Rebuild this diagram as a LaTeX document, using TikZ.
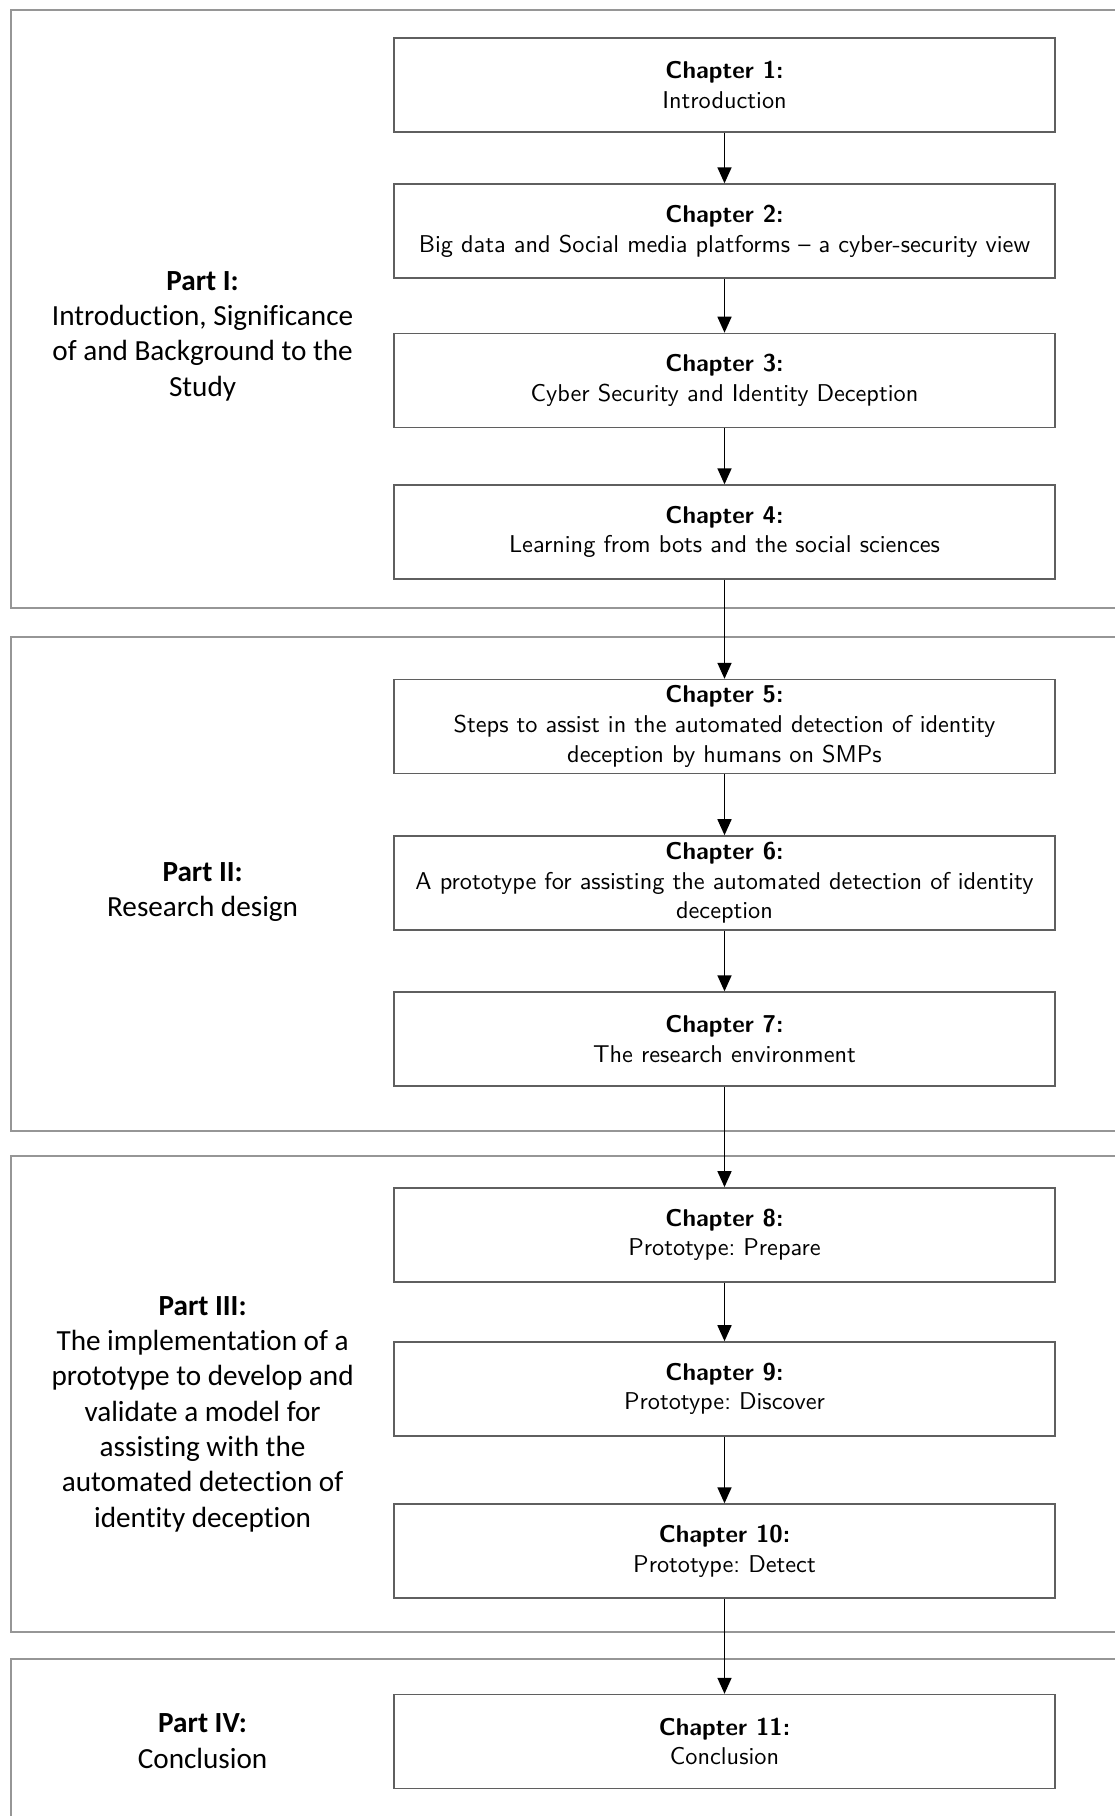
\documentclass[tikz,border=0pt]{standalone}
\usepackage{fontspec}
\usetikzlibrary{arrows.meta}
\newfontfamily\partfont[Ligatures=NoCommon]{Carlito}
\newfontfamily\chapfont[Ligatures=TeX,BoldFont=lmsans10-bold.otf]{lmsans10-regular.otf}
\frenchspacing
\definecolor{partgray}{HTML}{969696}
\definecolor{chapgray}{HTML}{5F5F5F}
\tikzset{
  partframe/.style={draw=partgray, line width=2pt},
  partlabel/.style={align=center, inner sep=0pt,
    font=\partfont\fontsize{29.2}{35.3}\selectfont},
  chapbox/.style={draw=chapgray, line width=1.4pt, minimum width=661pt,
    minimum height=94pt, inner sep=0pt, align=center,
    font=\chapfont\fontsize{24.3}{29.6}\selectfont},
  flow/.style={draw=black, line width=1.6pt,
    -{Triangle[length=16pt,width=14pt]}}
}
\begin{document}
\begin{tikzpicture}[x=1pt,y=-1pt]
\useasboundingbox (0,0) rectangle (1115,1816);

% part frames, open towards the right edge
\draw[partframe] (1115,10) -- (11,10) -- (11,608) -- (1115,608);
\draw[partframe] (1115,637) -- (11,637) -- (11,1131) -- (1115,1131);
\draw[partframe] (1115,1155.5) -- (11,1155.5) -- (11,1632) -- (1115,1632);
\draw[partframe] (1115,1659) -- (11,1659) -- (11,1816);

% part labels
\node[partlabel] (p1) at (202.6,336) {\textbf{Part I:}\\Introduction, Significance\\of and Background to the\\Study};
\node[partlabel] (p2) at (202.6,892) {\textbf{Part II:}\\Research design};
\node[partlabel] (p3) at (202.6,1414) {\textbf{Part III:}\\The implementation of a\\prototype to develop and\\validate a model for\\assisting with the\\automated detection of\\identity deception};
\node[partlabel] (p4) at (202.6,1741) {\textbf{Part IV:}\\Conclusion};

% chapters
\node[chapbox] (c1) at (724.5,84.9) {\textbf{Chapter 1:}\\Introduction};
\node[chapbox] (c2) at (724.5,231) {\textbf{Chapter 2:}\\Big data and Social media platforms – a cyber-security view};
\node[chapbox] (c3) at (724.5,380.4) {\textbf{Chapter 3:}\\Cyber Security and Identity Deception};
\node[chapbox] (c4) at (724.5,532) {\textbf{Chapter 4:}\\Learning from bots and the social sciences};
\node[chapbox] (c5) at (724.5,726.5) {\textbf{Chapter 5:}\\Steps to assist in the automated detection of identity\\deception by humans on SMPs};
\node[chapbox] (c6) at (724.5,882.9) {\textbf{Chapter 6:}\\A prototype for assisting the automated detection of identity\\deception};
\node[chapbox] (c7) at (724.5,1039) {\textbf{Chapter 7:}\\The research environment};
\node[chapbox] (c8) at (724.5,1234.8) {\textbf{Chapter 8:}\\Prototype: Prepare};
\node[chapbox] (c9) at (724.5,1388.9) {\textbf{Chapter 9:}\\Prototype: Discover};
\node[chapbox] (c10) at (724.5,1551) {\textbf{Chapter 10:}\\Prototype: Detect};
\node[chapbox] (c11) at (724.5,1741.5) {\textbf{Chapter 11:}\\Conclusion};

% reading order
\foreach \a/\b in {c1/c2,c2/c3,c3/c4,c4/c5,c5/c6,c6/c7,c7/c8,c8/c9,c9/c10,c10/c11}
  \draw[flow] (\a) -- (\b);
\end{tikzpicture}
\end{document}
